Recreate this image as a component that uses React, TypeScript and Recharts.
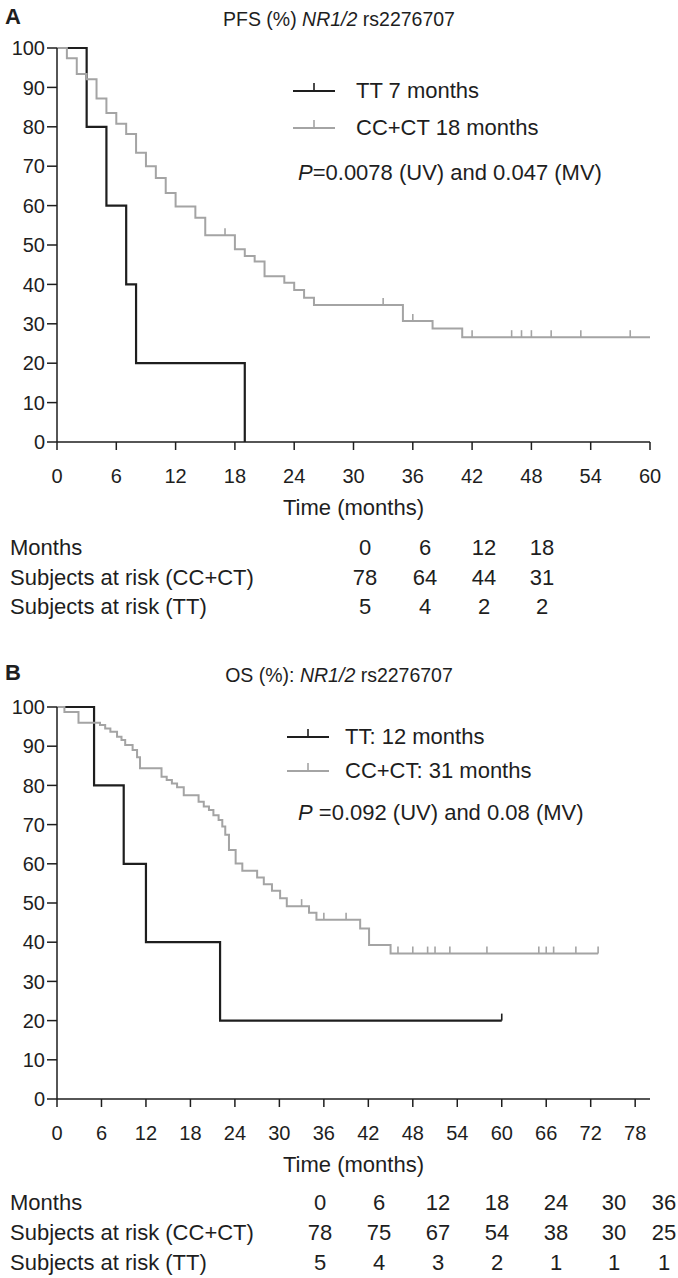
import React from 'react'
import { LineChart, Line, XAxis, YAxis } from 'recharts'

const FONT = '"Liberation Sans", Arial, Helvetica, sans-serif'
const BLACK = '#1e1e1e'
const GREY = '#a4a4a4'

const survTicks = [0, 10, 20, 30, 40, 50, 60, 70, 80, 90, 100]

// Panel A – PFS (%)
const pfsTicks = [0, 6, 12, 18, 24, 30, 36, 42, 48, 54, 60]
const pfsTTTimes = [0, 3, 5, 7, 8, 19]
const pfsTTSurv = [100, 80, 60, 40, 20, 0]
const pfsTTCensored: number[] = []
const pfsCCTimes = [0, 1, 2, 3, 4, 5, 6, 7, 8, 9, 10, 11, 12, 14, 15, 18, 19, 20, 21, 23, 24, 25, 26, 35, 38, 41, 60]
const pfsCCSurv = [100, 97.4, 93.4, 92.1, 87.2, 83.5, 80.8, 78.2, 73.4, 70.0, 67.0, 63.2, 59.8, 56.9, 52.5, 48.9, 47.2, 45.8, 42.1, 40.4, 38.6, 36.6, 34.8, 30.7, 28.8, 26.6, 26.6]
const pfsCCCensored = [17, 33, 36, 42, 46, 47, 48, 50, 53, 58]
const pfsRiskMonths = ['0', '6', '12', '18']
const pfsRiskCC = ['78', '64', '44', '31']
const pfsRiskTT = ['5', '4', '2', '2']

// Panel B – OS (%)
const osTicks = [0, 6, 12, 18, 24, 30, 36, 42, 48, 54, 60, 66, 72, 78]
const osTTTimes = [0, 5, 9, 12, 22]
const osTTSurv = [100, 80, 60, 40, 20]
const osTTCensored = [60]
const osCCTimes = [0, 1, 2.9, 5.8, 6.5, 7.2, 8.1, 8.7, 9.2, 10.2, 10.8, 11.2, 14.1, 14.8, 15.5, 16.2, 17.1, 19.1, 19.8, 20.5, 21.1, 21.8, 22.3, 22.7, 23.2, 24.1, 25, 27, 27.9, 29, 30.1, 31, 34, 35, 40.9, 42.1, 45]
const osCCSurv = [100, 98.7, 96.0, 95.4, 94.5, 93.7, 92.4, 91.6, 90.3, 89.0, 87.2, 84.4, 82.2, 81.4, 80.5, 79.5, 77.5, 75.8, 74.6, 73.7, 72.4, 71.2, 69.5, 67.4, 63.5, 60.1, 58.2, 56.5, 54.8, 53.1, 51.2, 49.2, 47.5, 45.7, 43.5, 39.3, 37.1]
const osCCCensored = [33, 36, 39, 46, 48, 50, 51, 53, 58, 65, 66, 67, 70, 73]
const osRiskMonths = ['0', '6', '12', '18', '24', '30', '36']
const osRiskCC = ['78', '75', '67', '54', '38', '30', '25']
const osRiskTT = ['5', '4', '3', '2', '1', '1', '1']

type Pt = { t: number; s: number; c?: boolean }

function buildCurve(times: number[], surv: number[], censored: number[]): Pt[] {
  const pts: Pt[] = times.map((t, i) => ({ t, s: surv[i] }))
  censored.forEach(ct => {
    let s = surv[0]
    times.forEach((t, i) => { if (t <= ct) s = surv[i] })
    const same = pts.find(p => p.t === ct)
    if (same) same.c = true
    else pts.push({ t: ct, s, c: true })
  })
  return pts.sort((a, b) => a.t - b.t)
}

const censorDot = (color: string) => (props: any) => {
  const { cx, cy, payload, index } = props
  if (!payload || !payload.c || cx == null) return <g key={`n${index}`} />
  return <line key={`c${index}`} x1={cx} y1={cy} x2={cx} y2={cy - 7} stroke={color} strokeWidth={1.6} />
}

function LegendMark({ color, width }: { color: string; width: number }) {
  return (
    <svg width={44} height={16} style={{ display: 'block' }}>
      <line x1={1} y1={12} x2={43} y2={12} stroke={color} strokeWidth={width} />
      <line x1={22} y1={12} x2={22} y2={4} stroke={color} strokeWidth={1.6} />
    </svg>
  )
}

const abs = (left: number, top: number, size: number, extra: React.CSSProperties = {}): React.CSSProperties => ({
  position: 'absolute', left, top: top - size * 0.5, fontSize: size, lineHeight: `${size}px`, whiteSpace: 'nowrap', color: BLACK, ...extra,
})

interface Layout {
  letterY: number; titleY: number; plotTop: number; plotH: number
  leg1Y: number; leg2Y: number; legLineX: number; legTextX: number; pY: number
  timeY: number; rowY: number[]; cols: number[]
}

interface PanelProps {
  top: number
  letter: string
  title: React.ReactNode
  leg1: string
  leg2: string
  pText: React.ReactNode
  xMax: number
  xTicks: number[]
  tt: Pt[]
  cc: Pt[]
  months: string[]
  riskCC: string[]
  riskTT: string[]
  L: Layout
}

function Panel({ top, letter, title, leg1, leg2, pText, xMax, xTicks, tt, cc, months, riskCC, riskTT, L }: PanelProps) {
  const tickStyle = { fill: BLACK, fontSize: 20, fontFamily: FONT }
  const rows = [
    { label: 'Months', vals: months },
    { label: 'Subjects at risk (CC+CT)', vals: riskCC },
    { label: 'Subjects at risk (TT)', vals: riskTT },
  ]
  return (
    <div style={{ position: 'absolute', left: 0, top, width: 678, height: 620 }}>
      <div style={{ position: 'absolute', left: 0, top: 0 }}>
        <LineChart width={678} height={L.plotTop + L.plotH + 60} margin={{ top: L.plotTop, right: 28, bottom: 0, left: 0 }}>
          <XAxis type="number" dataKey="t" domain={[0, xMax]} ticks={xTicks} interval={0} height={60}
            tickSize={8} tickMargin={19} tick={tickStyle}
            axisLine={{ stroke: BLACK, strokeWidth: 1.5 }} tickLine={{ stroke: BLACK, strokeWidth: 1.5 }} />
          <YAxis type="number" domain={[0, 100]} ticks={survTicks} interval={0} width={57}
            tickSize={10} tickMargin={2} tick={tickStyle}
            axisLine={{ stroke: BLACK, strokeWidth: 1.5 }} tickLine={{ stroke: BLACK, strokeWidth: 1.5 }} />
          <Line data={tt} dataKey="s" type="stepAfter" stroke={BLACK} strokeWidth={2.2}
            dot={censorDot(BLACK)} activeDot={false} isAnimationActive={false} />
          <Line data={cc} dataKey="s" type="stepAfter" stroke={GREY} strokeWidth={2}
            dot={censorDot(GREY)} activeDot={false} isAnimationActive={false} />
        </LineChart>
      </div>
      <div style={abs(5, L.letterY, 22, { fontWeight: 'bold' })}>{letter}</div>
      <div style={{ ...abs(0, L.titleY, 19.5), width: 678, textAlign: 'center' }}>{title}</div>
      <div style={{ position: 'absolute', left: L.legLineX, top: L.leg1Y - 12 }}><LegendMark color={BLACK} width={2.2} /></div>
      <div style={abs(L.legTextX, L.leg1Y, 22)}>{leg1}</div>
      <div style={{ position: 'absolute', left: L.legLineX, top: L.leg2Y - 12 }}><LegendMark color={GREY} width={2} /></div>
      <div style={abs(L.legTextX, L.leg2Y, 22)}>{leg2}</div>
      <div style={abs(298, L.pY, 22)}>{pText}</div>
      <div style={{ ...abs(57, L.timeY, 22), width: 593, textAlign: 'center' }}>Time (months)</div>
      {rows.map((r, ri) => (
        <React.Fragment key={r.label}>
          <div style={abs(10, L.rowY[ri], 22)}>{r.label}</div>
          {r.vals.map((v, ci) => (
            <div key={ci} style={{ ...abs(L.cols[ci] - 25, L.rowY[ri], 22), width: 50, textAlign: 'center' }}>{v}</div>
          ))}
        </React.Fragment>
      ))}
    </div>
  )
}

export default function App() {
  const pfsTT = buildCurve(pfsTTTimes, pfsTTSurv, pfsTTCensored)
  const pfsCC = buildCurve(pfsCCTimes, pfsCCSurv, pfsCCCensored)
  const osTT = buildCurve(osTTTimes, osTTSurv, osTTCensored)
  const osCC = buildCurve(osCCTimes, osCCSurv, osCCCensored)

  const layoutA: Layout = {
    letterY: 17, titleY: 20, plotTop: 48, plotH: 394, leg1Y: 91, leg2Y: 128, legLineX: 292, legTextX: 356,
    pY: 173, timeY: 508, rowY: [548, 578, 607], cols: [365, 425, 484, 542],
  }
  const layoutB: Layout = {
    letterY: 13, titleY: 16, plotTop: 47, plotH: 392, leg1Y: 77, leg2Y: 111, legLineX: 286, legTextX: 345,
    pY: 153, timeY: 505, rowY: [543, 573, 603], cols: [320, 379, 438, 497, 556, 614, 664],
  }

  return (
    <div style={{ position: 'absolute', left: 0, top: 0, width: 678, height: 1278, background: '#fff', fontFamily: FONT, overflow: 'hidden' }}>
      <Panel
        top={0}
        letter="A"
        title={<>PFS (%) <i>NR1/2</i> rs2276707</>}
        leg1="TT 7 months"
        leg2="CC+CT 18 months"
        pText={<><i>P</i>=0.0078 (UV) and 0.047 (MV)</>}
        xMax={60}
        xTicks={pfsTicks}
        tt={pfsTT}
        cc={pfsCC}
        months={pfsRiskMonths}
        riskCC={pfsRiskCC}
        riskTT={pfsRiskTT}
        L={layoutA}
      />
      <Panel
        top={660}
        letter="B"
        title={<>OS (%): <i>NR1/2</i> rs2276707</>}
        leg1="TT: 12 months"
        leg2="CC+CT: 31 months"
        pText={<><i>P</i> =0.092 (UV) and 0.08 (MV)</>}
        xMax={80}
        xTicks={osTicks}
        tt={osTT}
        cc={osCC}
        months={osRiskMonths}
        riskCC={osRiskCC}
        riskTT={osRiskTT}
        L={layoutB}
      />
    </div>
  )
}
